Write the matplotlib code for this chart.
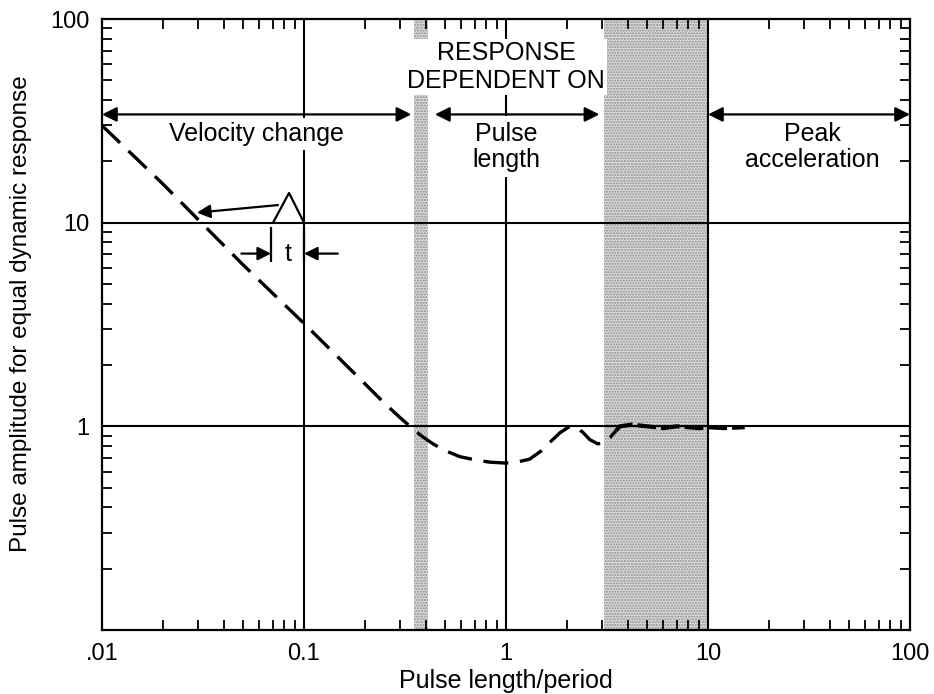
import matplotlib
matplotlib.use("Agg")
import matplotlib.pyplot as plt
from matplotlib.ticker import FixedLocator, FixedFormatter, LogLocator, NullFormatter

plt.rcParams["font.family"] = ["Liberation Sans", "DejaVu Sans"]

# shock response curve
ratio = [0.01, 0.02, 0.05, 0.1, 0.2, 0.25, 0.3, 0.335, 0.38, 0.435, 0.5, 0.59,
         0.7, 0.83, 1.0, 1.15, 1.31, 1.5, 1.65, 1.85, 2.07, 2.25, 2.4, 2.6,
         2.85, 3.05, 3.27, 3.5]
amplitude = [30.0, 15.5, 6.2, 3.2, 1.62, 1.3, 1.1, 1.0, 0.9, 0.82, 0.76, 0.71,
             0.685, 0.667, 0.66, 0.67, 0.69, 0.76, 0.835, 0.93, 1.0, 0.98, 0.935,
             0.86, 0.82, 0.83, 0.88, 0.95]
# ragged tail inside the right shaded zone
ratio_tail = [3.5, 3.66, 4.2, 5.0, 6.0, 7.0, 8.0, 9.0, 10.0, 12.0, 15.2]
amplitude_tail = [0.95, 1.0, 1.02, 1.0, 0.98, 1.0, 0.99, 0.98, 0.99, 0.98, 0.99]

# transition zones (shaded)
bands = [(0.35, 0.41), (3.05, 10.0)]

# regions marked with double arrows: (start, end, label, label x, label y, pad)
arrow_y = 34
regions = [
    (0.01, 0.34, "Velocity change", 0.058, 27.3, 3),
    (0.445, 2.9, "Pulse\nlength", 1.0, 23.6, 4),
    (10.0, 100.0, "Peak\nacceleration", 33.0, 23.6, 4),
]

x_ticks = [0.01, 0.1, 1, 10, 100]
x_tick_labels = [".01", "0.1", "1", "10", "100"]
y_ticks = [1, 10, 100]
y_tick_labels = ["1", "10", "100"]
grid_x = [0.1, 1, 10]
grid_y = [1, 10]

fig = plt.figure(figsize=(9.34, 6.94), dpi=100)
ax = fig.add_axes([102 / 934, 1 - 630 / 694, 808 / 934, 611 / 694])
ax.set_xscale("log")
ax.set_yscale("log")
ax.set_xlim(0.01, 100)
ax.set_ylim(0.1, 100)

for lo, hi in bands:
    ax.axvspan(lo, hi, facecolor="#dadada", edgecolor="#8e8e8e", hatch="......",
               lw=0, zorder=1)
for gx in grid_x:
    ax.axvline(gx, color="k", lw=1.5, zorder=2)
for gy in grid_y:
    ax.axhline(gy, color="k", lw=1.5, zorder=2)

line, = ax.plot(ratio, amplitude, color="k", lw=2.4, ls="--", zorder=4)
line.set_dashes((7.5, 3.5))
tail, = ax.plot(ratio_tail, amplitude_tail, color="k", lw=3.0, ls="--", zorder=4)
tail.set_dashes((4.5, 1.2))

for x0, x1, label, lx, ly, pad in regions:
    ax.annotate("", xy=(x1, arrow_y), xytext=(x0, arrow_y),
                arrowprops=dict(arrowstyle="<|-|>", color="k", lw=1.6,
                                mutation_scale=22, shrinkA=0, shrinkB=0),
                zorder=5)
    ax.text(lx, ly, label, ha="center", va="center", fontsize=18,
            linespacing=1.1, zorder=3,
            bbox=dict(facecolor="white", edgecolor="none", pad=pad))

ax.text(1.0, 58, "RESPONSE\nDEPENDENT ON", ha="center", va="center", fontsize=18,
        linespacing=1.2, zorder=3,
        bbox=dict(facecolor="white", edgecolor="none", pad=1.5))

# pulse sketch with its width "t"
ax.plot([0.0703, 0.0843, 0.1], [10, 14, 10], color="k", lw=1.6, zorder=4)
ax.annotate("", xy=(0.0295, 11.2), xytext=(0.0743, 12.2),
            arrowprops=dict(arrowstyle="-|>", color="k", lw=1.6,
                            mutation_scale=20, shrinkA=0, shrinkB=0))
ax.vlines([0.0687, 0.1], 6.4, 9.5, color="k", lw=1.6, zorder=4)
ax.annotate("", xy=(0.0687, 7.05), xytext=(0.049, 7.05),
            arrowprops=dict(arrowstyle="-|>", color="k", lw=1.6,
                            mutation_scale=20, shrinkA=0, shrinkB=0))
ax.annotate("", xy=(0.1, 7.05), xytext=(0.147, 7.05),
            arrowprops=dict(arrowstyle="-|>", color="k", lw=1.6,
                            mutation_scale=20, shrinkA=0, shrinkB=0))
ax.text(0.083, 7.05, "t", ha="center", va="center", fontsize=18)

ax.xaxis.set_major_locator(FixedLocator(x_ticks))
ax.xaxis.set_major_formatter(FixedFormatter(x_tick_labels))
ax.yaxis.set_major_locator(FixedLocator(y_ticks))
ax.yaxis.set_major_formatter(FixedFormatter(y_tick_labels))
for axis in (ax.xaxis, ax.yaxis):
    axis.set_minor_locator(LogLocator(base=10, subs=range(2, 10), numticks=20))
    axis.set_minor_formatter(NullFormatter())
    axis.set_zorder(3.5)

ax.tick_params(which="both", direction="in", top=True, right=True, width=1.3,
               labelsize=17)
ax.tick_params(which="major", length=0, pad=9)
ax.tick_params(which="minor", length=7)
for s in ax.spines.values():
    s.set_linewidth(1.6)

ax.set_xlabel("Pulse length/period", fontsize=18, labelpad=3)
ax.set_ylabel("Pulse amplitude for equal dynamic response", fontsize=17.5)
ax.yaxis.set_label_coords(-0.0866, 0.517)

fig.savefig("out.png", dpi=100)
